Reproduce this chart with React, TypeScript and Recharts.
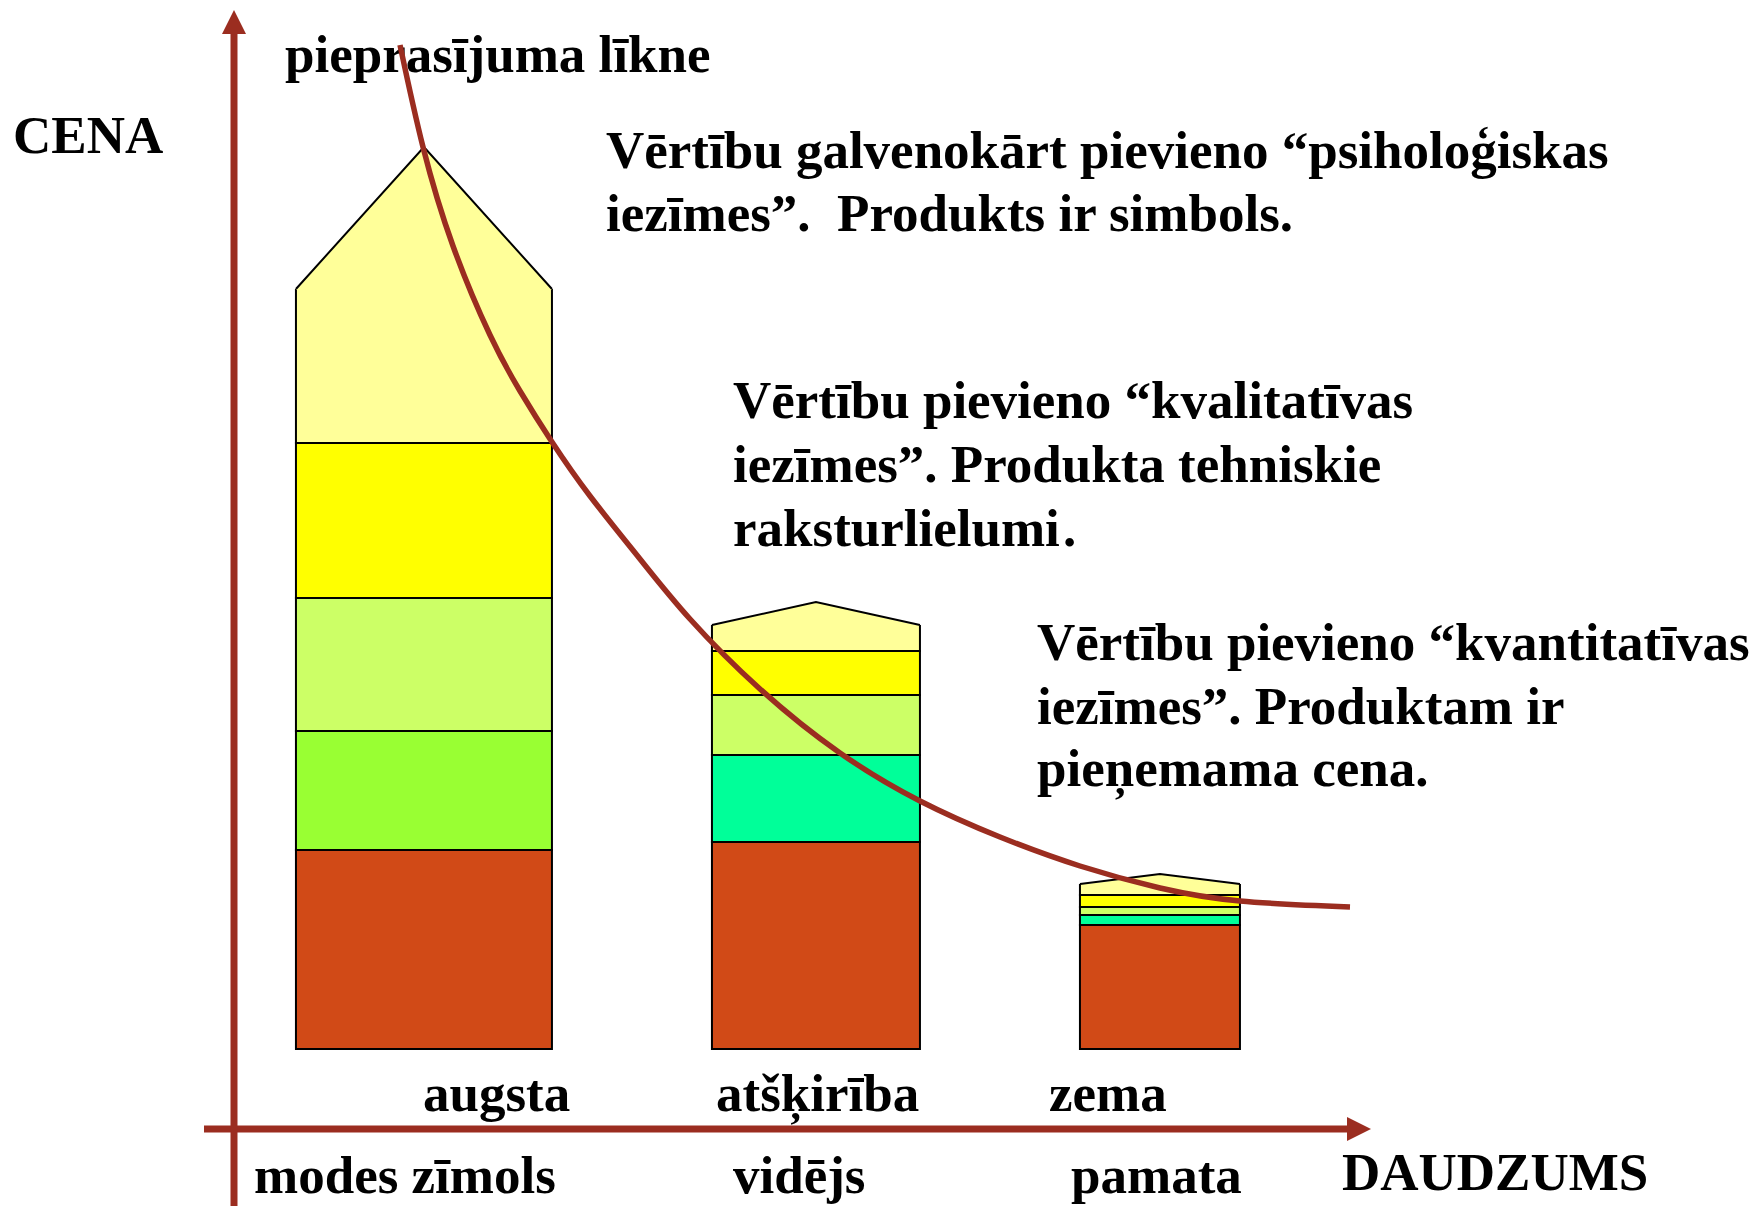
import { Bar, ComposedChart, Line, ReferenceLine, XAxis, YAxis } from 'recharts'

// three product tiers, placed along the quantity axis
const TIERS = ['augsta', 'atšķirība', 'zema']
const SEGMENTS = ['modes zīmols', 'vidējs', 'pamata']
const QUANTITY = [19.0, 58.2, 92.6]

// stacked price components per tier (bottom → top)
const BASE = [19.9, 20.7, 12.4]
const FEATURES = [11.9, 8.7, 1.0]
const QUALITY = [13.3, 6.0, 0.8]
const EXTRAS = [15.5, 4.4, 1.2]
const IMAGE = [15.4, 2.6, 1.1]
const PEAK = [14.2, 2.3, 1.0]

// demand curve (quantity → price)
const DEMAND_Q = [16.6, 18.9, 21.9, 25.6, 28.6, 31.8, 35.6, 40.6, 45.6, 52.6, 60.6, 68.6, 76.6, 84.6, 92.6, 100.6, 111.6]
const DEMAND_P = [100.4, 90.2, 80.3, 71.4, 65.8, 60.7, 55.3, 49.0, 43.0, 36.0, 29.6, 24.8, 21.2, 18.3, 16.1, 14.8, 14.2]

const bars = QUANTITY.map((q, i) => ({
  q, tier: TIERS[i], base: BASE[i], features: FEATURES[i], quality: QUALITY[i],
  extras: EXTRAS[i], image: IMAGE[i], peak: PEAK[i],
}))
const demand = DEMAND_Q.map((q, i) => ({ q, p: DEMAND_P[i] }))

const W = 1759
const H = 1206
const RED = '#9B2D20'
const FONT = "'Liberation Serif', 'Times New Roman', serif"
const BAR_PX = [256, 208, 160]
const FEATURE_FILL = ['#99FF33', '#00FF99', '#00FF99']

type ShapeProps = { x: number; y: number; width: number; height: number; index: number }

const box = (fill: string | string[]) => (p: ShapeProps) => {
  const w = BAR_PX[p.index]
  const l = p.x + p.width / 2 - w / 2
  const f = Array.isArray(fill) ? fill[p.index] : fill
  return <rect x={l} y={p.y} width={w} height={p.height} fill={f} stroke="#000" strokeWidth={2} />
}

// top band: no line along its top edge, the roof sits on it
const openBox = (fill: string) => (p: ShapeProps) => {
  const w = BAR_PX[p.index]
  const l = p.x + p.width / 2 - w / 2
  return (
    <g>
      <rect x={l} y={p.y} width={w} height={p.height} fill={fill} />
      <path d={`M${l},${p.y} V${p.y + p.height} H${l + w} V${p.y}`} fill="none" stroke="#000" strokeWidth={2} />
    </g>
  )
}

const roof = (fill: string) => (p: ShapeProps) => {
  const w = BAR_PX[p.index]
  const cx = p.x + p.width / 2
  const l = cx - w / 2
  const b = p.y + p.height
  return (
    <g>
      <path d={`M${l},${b + 1} L${cx},${p.y} L${l + w},${b + 1} Z`} fill={fill} />
      <path d={`M${l},${b} L${cx},${p.y} L${l + w},${b}`} fill="none" stroke="#000" strokeWidth={2} />
    </g>
  )
}

function Arrow(props: any) {
  const { x1, y1, x2, y2 } = props
  const len = Math.hypot(x2 - x1, y2 - y1)
  const ux = (x2 - x1) / len
  const uy = (y2 - y1) / len
  const bx = x2 - ux * 24
  const by = y2 - uy * 24
  const nx = -uy * 12
  const ny = ux * 12
  return (
    <g>
      <line x1={x1} y1={y1} x2={bx} y2={by} stroke={RED} strokeWidth={7} />
      <polygon points={`${x2},${y2} ${bx + nx},${by + ny} ${bx - nx},${by - ny}`} fill={RED} />
    </g>
  )
}

const T = { fontFamily: FONT, fontWeight: 700, fontSize: 53, fill: '#000', whiteSpace: 'pre' as const }

const NOTES = [
  { x: 606, y: [168, 231], lines: ['Vērtību galvenokārt pievieno “psiholoģiskas', 'iezīmes”.  Produkts ir simbols.'] },
  { x: 733, y: [418, 482, 546], lines: ['Vērtību pievieno “kvalitatīvas', 'iezīmes”. Produkta tehniskie', 'raksturlielumi'] },
  { x: 1037, y: [660, 724, 786], lines: ['Vērtību pievieno “kvantitatīvas', 'iezīmes”. Produktam ir', 'pieņemama cena.'] },
]
const TIER_X = [423, 716, 1049]
const SEGMENT_X = [254, 733, 1071]

export default function App() {
  return (
    <div style={{ position: 'absolute', left: 0, top: 0, width: W, height: H, background: '#fff', overflow: 'hidden' }}>
      <svg width={W} height={H} style={{ position: 'absolute', left: 0, top: 0 }}>
        <text x={13} y={153} style={T}>CENA</text>
        <text x={285} y={72} style={T}>pieprasījuma līkne</text>
        {NOTES.map((n) => n.lines.map((s, i) => (
          <text key={n.x + '-' + i} x={n.x} y={n.y[i]} style={T}>{s}</text>
        )))}
        {/* the period stands a little apart in the original */}
        <text x={1063} y={546} style={T}>.</text>
        {TIERS.map((t, i) => <text key={t} x={TIER_X[i]} y={1111} style={T}>{t}</text>)}
        {SEGMENTS.map((s, i) => <text key={s} x={SEGMENT_X[i]} y={1193} style={T}>{s}</text>)}
        <text x={1342} y={1190} style={T}>DAUDZUMS</text>
      </svg>
      <div style={{ position: 'absolute', left: 0, top: 0 }}>
        <ComposedChart width={W} height={H} data={bars} margin={{ top: 9, right: 385, bottom: 0, left: 204 }}>
          <XAxis type="number" dataKey="q" domain={[-3, 114]} allowDataOverflow hide />
          <YAxis type="number" domain={[-15.7, 104]} allowDataOverflow hide />
          <ReferenceLine segment={[{ x: -3, y: -8 }, { x: 113.7, y: -8 }]} ifOverflow="visible" shape={Arrow} />
          <ReferenceLine segment={[{ x: 0, y: -15.7 }, { x: 0, y: 103.9 }]} ifOverflow="visible" shape={Arrow} />
          <Bar dataKey="base" stackId="a" barSize={40} shape={box('#D14A17') as any} isAnimationActive={false} />
          <Bar dataKey="features" stackId="a" barSize={40} shape={box(FEATURE_FILL) as any} isAnimationActive={false} />
          <Bar dataKey="quality" stackId="a" barSize={40} shape={box('#CCFF66') as any} isAnimationActive={false} />
          <Bar dataKey="extras" stackId="a" barSize={40} shape={box('#FFFF00') as any} isAnimationActive={false} />
          <Bar dataKey="image" stackId="a" barSize={40} shape={openBox('#FFFF99') as any} isAnimationActive={false} />
          <Bar dataKey="peak" stackId="a" barSize={40} shape={roof('#FFFF99') as any} isAnimationActive={false} />
          <Line data={demand} dataKey="p" type="natural" stroke={RED} strokeWidth={5.5} dot={false} isAnimationActive={false} />
        </ComposedChart>
      </div>
    </div>
  )
}
